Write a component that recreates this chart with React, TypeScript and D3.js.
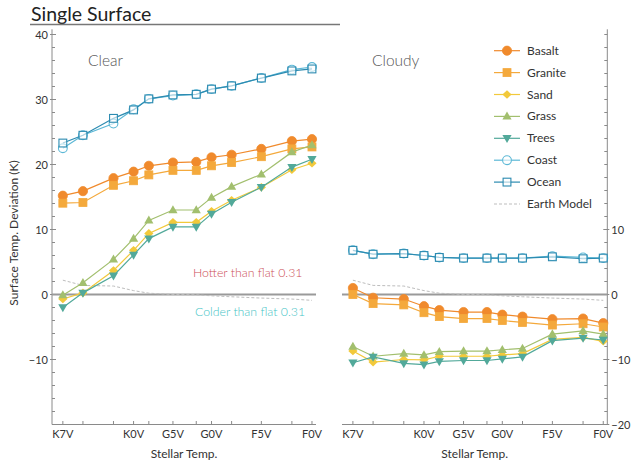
import React from "react";
import * as d3 from "d3";

// ---------- data ----------
const stellarTemps = [4100, 4350, 4730, 4980, 5170, 5470, 5760, 5950, 6200, 6570, 6950, 7200];
const tickLabels = ["K7V", "", "", "K0V", "", "G5V", "", "G0V", "", "F5V", "", "F0V"];

const earthModel = [2.2, 1.4, 1.3, 0.6, 0.2, 0.0, -0.05, -0.2, -0.35, -0.55, -0.7, -0.9];

const clearBasalt = [15.2, 15.9, 17.9, 18.9, 19.8, 20.3, 20.4, 21.1, 21.5, 22.4, 23.6, 23.9];
const clearGranite = [14.05, 14.15, 16.8, 17.5, 18.4, 19.1, 19.1, 19.8, 20.3, 21.2, 22.4, 22.7];
const clearSand = [-0.7, 0.25, 3.7, 6.8, 9.4, 11.1, 11.1, 12.8, 14.5, 16.5, 19.2, 20.2];
const clearGrass = [-0.1, 1.8, 5.4, 8.6, 11.4, 13.0, 13.0, 14.9, 16.6, 18.5, 21.9, 23.0];
const clearTrees = [-2.0, 0.25, 2.9, 6.1, 8.6, 10.4, 10.4, 12.4, 14.2, 16.5, 19.6, 20.8];
const clearCoast = [22.5, 24.5, 26.3, 28.5, 30.1, 30.6, 30.8, 31.6, 32.1, 33.3, 34.6, 35.0];
const clearOcean = [23.3, 24.5, 27.1, 28.4, 30.1, 30.7, 30.8, 31.6, 32.1, 33.3, 34.4, 34.7];

const cloudyBasalt = [1.0, -0.5, -0.7, -1.8, -2.4, -2.7, -2.7, -3.1, -3.4, -3.8, -3.7, -4.4];
const cloudyGranite = [0.0, -1.4, -1.6, -2.8, -3.4, -3.7, -3.7, -4.0, -4.3, -4.7, -4.5, -5.0];
const cloudySand = [-8.7, -10.4, -10.0, -10.05, -9.5, -9.5, -9.5, -9.3, -9.1, -6.9, -6.6, -7.2];
const cloudyGrass = [-8.0, -9.5, -9.1, -9.3, -8.8, -8.7, -8.7, -8.5, -8.3, -6.1, -5.6, -6.1];
const cloudyTrees = [-10.5, -9.6, -10.6, -10.8, -10.3, -10.15, -10.15, -9.9, -9.6, -7.1, -6.7, -7.0];
const cloudyCoast = [6.8, 6.2, 6.3, 6.0, 5.7, 5.6, 5.6, 5.6, 5.6, 5.9, 5.7, 5.6];
const cloudyOcean = [6.8, 6.2, 6.3, 6.0, 5.7, 5.6, 5.6, 5.6, 5.6, 5.8, 5.5, 5.6];

const seriesNames = ["Basalt", "Granite", "Sand", "Grass", "Trees", "Coast", "Ocean"];
const seriesColors = ["#f08a2c", "#f4a93c", "#f2c93b", "#a2bf6e", "#52a99a", "#5cb8d6", "#2c8bb1"];
const seriesShapes = ["circle", "square", "diamond", "triUp", "triDown", "openCircle", "openSquare"];
const clearSeries = [clearBasalt, clearGranite, clearSand, clearGrass, clearTrees, clearCoast, clearOcean];
const cloudySeries = [cloudyBasalt, cloudyGranite, cloudySand, cloudyGrass, cloudyTrees, cloudyCoast, cloudyOcean];

const yTicksMajor = [-10, 0, 10, 20, 30, 40];
const yTicksRight = [-20, -10, 0, 10];

// ---------- layout ----------
const W = 640;
const H = 467;
const FONT = "Lato, 'Open Sans', sans-serif";
const AXIS = "#8a8a8a";

const yScale = d3.scaleLinear().domain([-20, 40.8]).range([424.5, 29.3]);
const xDomain: [number, number] = [3965, 7250];
const xLeft = d3.scaleLinear().domain(xDomain).range([52, 316]);
const xRight = d3.scaleLinear().domain(xDomain).range([342, 607.3]);

function Marker({ shape, x, y, color }: { shape: string; x: number; y: number; color: string }) {
  switch (shape) {
    case "circle":
      return <circle cx={x} cy={y} r={4.6} fill={color} stroke={color} strokeWidth={0.8} />;
    case "square":
      return <rect x={x - 4} y={y - 4} width={8} height={8} fill={color} stroke={color} strokeWidth={0.8} />;
    case "diamond":
      return (
        <path
          d={`M${x},${y - 4.3}L${x + 4.6},${y}L${x},${y + 4.3}L${x - 4.6},${y}Z`}
          fill={color}
        />
      );
    case "triUp":
      return <path d={`M${x},${y - 4.8}L${x + 4.6},${y + 3.2}L${x - 4.6},${y + 3.2}Z`} fill={color} />;
    case "triDown":
      return <path d={`M${x},${y + 4.8}L${x + 4.6},${y - 3.2}L${x - 4.6},${y - 3.2}Z`} fill={color} />;
    case "openCircle":
      return <circle cx={x} cy={y} r={4.4} fill="white" fillOpacity={0.6} stroke={color} strokeWidth={1.1} />;
    case "openSquare":
      return <rect x={x - 3.9} y={y - 3.9} width={7.8} height={7.8} fill="white" fillOpacity={0.6} stroke={color} strokeWidth={1.1} />;
    default:
      return null;
  }
}

function Panel({
  x,
  series,
  title,
  titleX,
}: {
  x: d3.ScaleLinear<number, number>;
  series: number[][];
  title: string;
  titleX: number;
}) {
  const [x0, x1] = x.range();
  const line = d3
    .line<number>()
    .x((_, i) => x(stellarTemps[i]))
    .y((d) => yScale(d));
  const yb = yScale(-20);
  return (
    <g>
      {/* zero line */}
      <line x1={x0} x2={x1} y1={yScale(0)} y2={yScale(0)} stroke="#9a9a9a" strokeWidth={1.8} />
      {/* earth model */}
      <path d={line(earthModel) || ""} fill="none" stroke="#bdbdbd" strokeWidth={1} strokeDasharray="3,2" />
      {/* bottom axis */}
      <line x1={x0} x2={x1} y1={yb} y2={yb} stroke={AXIS} strokeWidth={1} />
      {stellarTemps.map((t, i) => (
        <g key={i}>
          <line x1={x(t)} x2={x(t)} y1={yb} y2={yb - 3.5} stroke={AXIS} strokeWidth={1} />
          {tickLabels[i] && (
            <text x={x(t)} y={yb + 13} textAnchor="middle" fontSize={11} fill="#333" fontFamily={FONT}>
              {tickLabels[i]}
            </text>
          )}
        </g>
      ))}
      <text x={(x0 + x1) / 2} y={yb + 33} textAnchor="middle" fontSize={12} fill="#333" fontFamily={FONT}>
        Stellar Temp.
      </text>
      <text x={titleX} y={65.5} fontSize={15.5} fill="#555" fontFamily={FONT} fontWeight={300}>
        {title}
      </text>
      {series.map((vals, si) => (
        <g key={si}>
          <path d={line(vals) || ""} fill="none" stroke={seriesColors[si]} strokeWidth={1.2} />
          {vals.map((v, i) => (
            <Marker key={i} shape={seriesShapes[si]} x={x(stellarTemps[i])} y={yScale(v)} color={seriesColors[si]} />
          ))}
        </g>
      ))}
    </g>
  );
}

export default function App() {
  const minorTicks = d3.range(-20, 41, 2);
  const leftX = 52;
  const rightX = 607.3;
  const legendY0 = 50.7;
  const legendStep = 21.9;
  return (
    <svg width={W} height={H} style={{ display: "block", position: "absolute", left: 0, top: 0 }}>
      <rect width={W} height={H} fill="white" />
      {/* title */}
      <text x={31} y={21} fontSize={19.5} fill="#222" fontFamily={FONT}>
        Single Surface
      </text>
      <line x1={30} x2={340} y1={24.5} y2={24.5} stroke="#777" strokeWidth={1.5} />

      {/* left y axis */}
      <line x1={leftX} x2={leftX} y1={yScale(40.8)} y2={yScale(-20)} stroke={AXIS} strokeWidth={1} />
      {minorTicks.map((t) => (
        <line key={t} x1={leftX} x2={leftX + 3} y1={yScale(t)} y2={yScale(t)} stroke={AXIS} strokeWidth={1} />
      ))}
      {yTicksMajor.map((t) => (
        <g key={t}>
          <line x1={leftX - 2} x2={leftX + 4} y1={yScale(t)} y2={yScale(t)} stroke={AXIS} strokeWidth={1} />
          <text x={leftX - 4} y={yScale(t) + 4} textAnchor="end" fontSize={11} fill="#333" fontFamily={FONT}>
            {t < 0 ? `\u2212${-t}` : t}
          </text>
        </g>
      ))}
      <text
        transform={`translate(${18},${233}) rotate(-90)`}
        textAnchor="middle"
        fontSize={12}
        fill="#333"
        fontFamily={FONT}
      >
        Surface Temp. Deviation (K)
      </text>

      {/* right y axis */}
      <line x1={rightX} x2={rightX} y1={yScale(40.8)} y2={yScale(-20)} stroke={AXIS} strokeWidth={1} />
      {minorTicks.map((t) => (
        <line key={t} x1={rightX - 3} x2={rightX} y1={yScale(t)} y2={yScale(t)} stroke={AXIS} strokeWidth={1} />
      ))}
      {yTicksRight.map((t) => (
        <g key={t}>
          <line x1={rightX - 4} x2={rightX + 2} y1={yScale(t)} y2={yScale(t)} stroke={AXIS} strokeWidth={1} />
          <text x={rightX + 4} y={yScale(t) + 4} textAnchor="start" fontSize={11} fill="#333" fontFamily={FONT}>
            {t < 0 ? `\u2212${-t}` : t}
          </text>
        </g>
      ))}

      <Panel x={xLeft} series={clearSeries} title="Clear" titleX={88} />
      <Panel x={xRight} series={cloudySeries} title="Cloudy" titleX={372} />

      {/* annotations */}
      <text x={193} y={277} fontSize={12.3} fill="#cc4f57" fontFamily={FONT} fontWeight={300}>
        Hotter than flat 0.31
      </text>
      <text x={195} y={316} fontSize={12.3} fill="#45c4c6" fontFamily={FONT} fontWeight={300}>
        Colder than flat 0.31
      </text>

      {/* legend */}
      {seriesNames.map((name, i) => {
        const y = legendY0 + i * legendStep;
        return (
          <g key={name}>
            <line x1={494} x2={520} y1={y} y2={y} stroke={seriesColors[i]} strokeWidth={1.2} />
            <Marker shape={seriesShapes[i]} x={507} y={y} color={seriesColors[i]} />
            <text x={527} y={y + 4} fontSize={12} fill="#333" fontFamily={FONT}>
              {name}
            </text>
          </g>
        );
      })}
      <g>
        <line
          x1={494}
          x2={520}
          y1={legendY0 + 7 * legendStep}
          y2={legendY0 + 7 * legendStep}
          stroke="#bdbdbd"
          strokeWidth={1}
          strokeDasharray="3,2"
        />
        <text x={527} y={legendY0 + 7 * legendStep + 4} fontSize={12} fill="#333" fontFamily={FONT}>
          Earth Model
        </text>
      </g>
    </svg>
  );
}
